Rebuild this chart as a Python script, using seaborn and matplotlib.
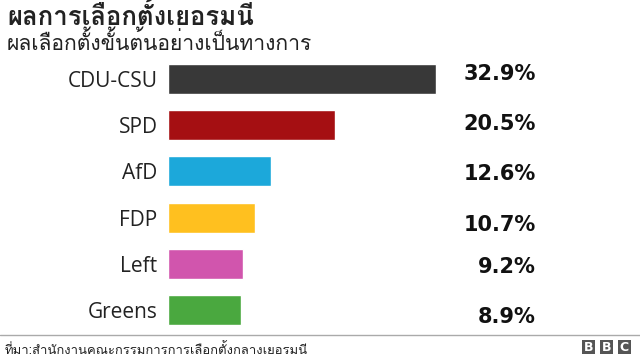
import matplotlib
matplotlib.use("Agg")
import matplotlib.pyplot as plt
from matplotlib import font_manager
from matplotlib.ft2font import FT2Font
from matplotlib.patches import Rectangle
import matplotlib.transforms as mtransforms
import seaborn as sns
import pandas as pd

parties = ["CDU-CSU", "SPD", "AfD", "FDP", "Left", "Greens"]
shares = [32.9, 20.5, 12.6, 10.7, 9.2, 8.9]
share_labels = ["32.9%", "20.5%", "12.6%", "10.7%", "9.2%", "8.9%"]
colors = ["#383838", "#A50F12", "#1CA8DA", "#FFC01F", "#D155AD", "#4AA83F"]
title = "ผลการเลือกตั้งเยอรมนี"
subtitle = "ผลเลือกตั้งขั้นต้นอย่างเป็นทางการ"
source = "ที่มา:สำนักงานคณะกรรมการการเลือกตั้งกลางเยอรมนี"

# layout: small vertical nudges (pixels) of the value labels, as in the reference
value_nudge_px = [-5, -1, 3, 7, 3.5, 7]

sns.set_theme(style="white")
plt.rcParams['font.family'] = ['Loma', 'DejaVu Sans']

df = pd.DataFrame({"party": parties, "share": shares})

W, H = 640, 360
fig = plt.figure(figsize=(6.4, 3.6), dpi=100)
top_px, bot_px = 79 - 23.2, 310 + 23.2
ax = fig.add_axes([168/W, 1 - bot_px/H, 326/W, (bot_px - top_px)/H])
sns.barplot(data=df, y="party", x="share", hue="party", palette=colors,
            legend=False, width=0.65, ax=ax, saturation=1, orient="h")
ax.set_xlim(0, 40)
ax.set_ylim(5.5, -0.5)
ax.set_xlabel("")
ax.set_ylabel("")
ax.set_xticks([])
for s in ax.spines.values():
    s.set_visible(False)
ax.tick_params(axis="y", length=0, pad=7.5)
for t in ax.get_yticklabels():
    t.set_fontfamily("Open Sans")
    t.set_fontsize(15)
    t.set_color("#222222")

trans = mtransforms.blended_transform_factory(fig.transFigure, ax.transData)
for i, lab in enumerate(share_labels):
    tr = trans + mtransforms.ScaledTranslation(0, -value_nudge_px[i]/100, fig.dpi_scale_trans)
    ax.text(536/W, i, lab, transform=tr, ha="right", va="center",
            fontsize=15, fontweight="bold", color="#111111", family="DejaVu Sans")

fig.text(7/W, 1 - 25/H, title, fontsize=18.5, fontweight="bold", va="baseline", color="#222222")
fig.text(7/W, 1 - 50/H, subtitle, fontsize=15.2, va="baseline", color="#222222")
fig.text(5/W, 1 - 354/H, source, fontsize=9.4, va="baseline", color="#222222")
fig.add_artist(plt.Line2D([0, 1], [1 - 334.5/H, 1 - 334.5/H], color="#aaaaaa", lw=1))

for k, ch in enumerate("BBC"):
    x0 = 582 + k * 17.8
    fig.add_artist(Rectangle((x0/W, 1 - 354.3/H), 13.3/W, 14.3/H, color="#555555", lw=0))
    fig.text((x0 + 6.65)/W, 1 - 347.3/H, ch, color="white", fontsize=9,
             fontweight="bold", ha="center", va="center", family="DejaVu Sans")

fig.savefig("out.png", dpi=100)
